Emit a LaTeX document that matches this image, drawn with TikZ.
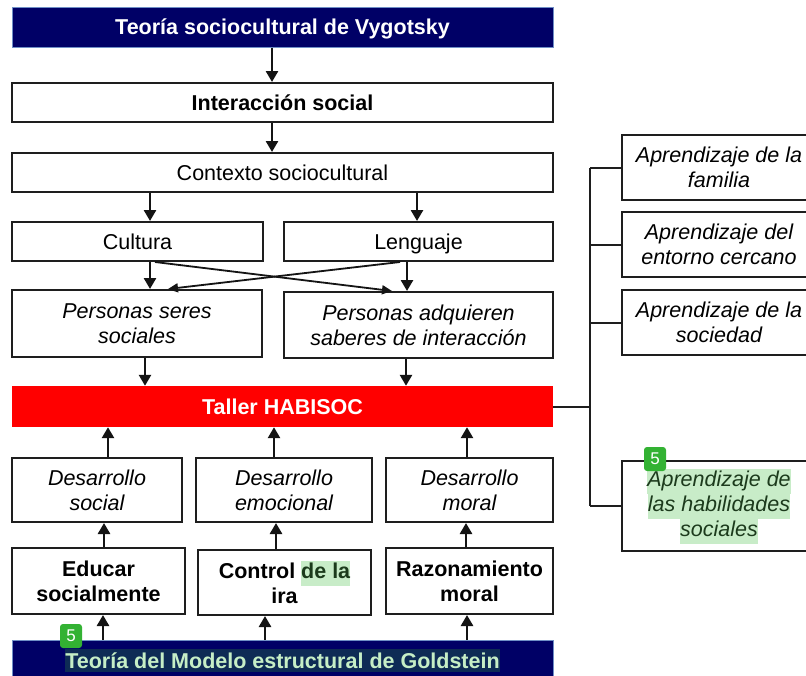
\documentclass[tikz,border=0pt]{standalone}
\usepackage{fontspec}
\setmainfont{Liberation Sans}
\usetikzlibrary{arrows.meta}
\definecolor{navy}{HTML}{000066}
\definecolor{navyedge}{HTML}{6F8FC6}
\definecolor{tallerred}{HTML}{FF0000}
\definecolor{hlgreen}{HTML}{C8ECC8}
\definecolor{hltext}{HTML}{1C3A1C}
\definecolor{badgegreen}{HTML}{33B233}
\definecolor{goldhl}{HTML}{0E2B55}
\definecolor{goldtext}{HTML}{C6EEC6}
\definecolor{boxline}{HTML}{1E1E1E}
\newcommand\hlbox[1]{{\setlength{\fboxsep}{0pt}\colorbox{hlgreen}{\strut\color{hltext}#1}}}
\begin{document}
\begin{tikzpicture}[x=1pt,y=-1pt,
  txt/.style={font=\fontsize{21.5}{25}\selectfont},
  box/.style={txt, draw=boxline, line width=2pt, fill=white, align=center, inner sep=0pt},
  bbox/.style={box, font=\fontsize{21.5}{25}\selectfont\bfseries},
  ibox/.style={box, font=\fontsize{21.5}{25}\selectfont\itshape},
  oneline/.style={text height=15.5pt, text depth=0pt},
  navybox/.style={draw=navyedge, line width=1pt, fill=navy, text=white, inner sep=0pt, font=\fontsize{21.5}{25}\selectfont\bfseries},
  arr/.style={draw=black!92, line width=2.6pt, -{Triangle[length=11pt,width=12pt]}},
  xarr/.style={draw=black!92, line width=1.8pt, -{Triangle[length=10pt,width=9pt]}},
  conn/.style={draw=boxline, line width=2pt},
  badge/.style={fill=badgegreen, rounded corners=3pt, minimum width=22pt, minimum height=24pt, inner sep=0pt, text=white, font=\fontsize{17}{17}\selectfont}
]
\useasboundingbox (0,0) rectangle (806,675);
\begin{scope}
\clip (0,0) rectangle (806,675);
\fill[white] (0,0) rectangle (806,675);

% left column
\node[navybox, oneline, minimum width=541pt, minimum height=40pt] (title) at (282.5,27) {Teoría sociocultural de Vygotsky};
\node[bbox, oneline, minimum width=541pt, minimum height=39pt] (inter) at (282.5,102.5) {Interacción social};
\node[box, oneline, minimum width=541pt, minimum height=39pt] (ctx) at (282.5,172.5) {Contexto sociocultural};
\node[box, oneline, minimum width=251pt, minimum height=39pt] (cult) at (137.5,241.5) {Cultura};
\node[box, oneline, minimum width=269pt, minimum height=39pt] (leng) at (418.5,241.5) {Lenguaje};
\node[ibox, minimum width=250pt, minimum height=67pt] (pss) at (137,323.5) {Personas seres\\sociales};
\node[ibox, minimum width=269pt, minimum height=66pt] (pas) at (418.5,325) {Personas adquieren\\saberes de interacción};
\node[fill=tallerred, text=white, oneline, inner sep=0pt, minimum width=541pt, minimum height=41pt, font=\fontsize{21.5}{25}\selectfont\bfseries] (taller) at (282.5,406.5) {Taller HABISOC};
\node[ibox, minimum width=170pt, minimum height=64pt] (ds) at (97,490) {Desarrollo\\social};
\node[ibox, minimum width=176pt, minimum height=64pt] (de) at (284,490) {Desarrollo\\emocional};
\node[ibox, minimum width=167pt, minimum height=64pt] (dm) at (469.5,490) {Desarrollo\\moral};
\node[bbox, minimum width=173pt, minimum height=66pt] (edu) at (98.5,581) {Educar\\socialmente};
\node[bbox, minimum width=173pt, minimum height=65pt] (ctrl) at (284.5,582.5) {Control \hlbox{de la}\\ira};
\node[bbox, minimum width=167pt, minimum height=66pt] (raz) at (469.5,581) {Razonamiento\\moral};
\node[navybox, minimum width=541pt, minimum height=55pt] (gold) at (282.5,667.5) {};
\node[fill=goldhl, text=goldtext, inner xsep=0.5pt, inner ysep=0pt, minimum height=23pt, font=\fontsize{21.5}{25}\selectfont\bfseries] (goldtxt) at (282.5,660.5) {Teoría del Modelo estructural de Goldstein};

% arrows
\draw[arr] ([xshift=-10.5pt]title.south) -- ([xshift=-10.5pt]inter.north);
\draw[arr] ([xshift=-10.5pt]inter.south) -- ([xshift=-10.5pt]ctx.north);
\draw[arr] ([xshift=-132.5pt]ctx.south) -- ([xshift=12.5pt]cult.north);
\draw[arr] ([xshift=134.5pt]ctx.south) -- ([xshift=-1.5pt]leng.north);
\draw[arr] ([xshift=12.5pt]cult.south) -- ([xshift=13pt]pss.north);
\draw[arr] ([xshift=-11.5pt]leng.south) -- ([xshift=-11.5pt]pas.north);
\draw[xarr] ([xshift=17.5pt]cult.south) -- ([xshift=-26.5pt]pas.north);
\draw[xarr] ([xshift=-18.5pt]leng.south) -- ([xshift=31pt]pss.north);
\draw[arr] ([xshift=8pt]pss.south) -- ([xshift=-137.5pt]taller.north);
\draw[arr] ([xshift=-12.5pt]pas.south) -- ([xshift=123.5pt]taller.north);
\draw[arr] ([xshift=11pt]ds.north) -- ([xshift=-174.5pt]taller.south);
\draw[arr] ([xshift=-10pt]de.north) -- ([xshift=-8.5pt]taller.south);
\draw[arr] ([xshift=-2.5pt]dm.north) -- ([xshift=184.5pt]taller.south);
\draw[arr] ([xshift=5.5pt]edu.north) -- ([xshift=7pt]ds.south);
\draw[arr] ([xshift=-8.5pt]ctrl.north) -- ([xshift=-8pt]de.south);
\draw[arr] ([xshift=-3.5pt]raz.north) -- ([xshift=-3.5pt]dm.south);
\draw[arr] ([xshift=-179.5pt]gold.north) -- ([xshift=4.5pt]edu.south);
\draw[arr] ([xshift=-17.5pt]gold.north) -- ([xshift=-19.5pt]ctrl.south);
\draw[arr] ([xshift=184.5pt]gold.north) -- ([xshift=-2.5pt]raz.south);

% right column
\node[ibox, minimum width=194pt, minimum height=65pt] (fam) at (719,167.5) {Aprendizaje de la\\familia};
\node[ibox, minimum width=194pt, minimum height=65pt] (ent) at (719,244.5) {Aprendizaje del\\entorno cercano};
\node[ibox, minimum width=194pt, minimum height=65pt] (soc) at (719,322.5) {Aprendizaje de la\\sociedad};
\node[ibox, minimum width=194pt, minimum height=90pt] (hab) at (719,506) {\hlbox{Aprendizaje de}\\\hlbox{las habilidades}\\\hlbox{sociales}};
\coordinate (bus) at (590,406.5);
\draw[conn] (taller.east) -- (bus);
\draw[conn] (fam.west -| bus) -- (hab.west -| bus);
\foreach \n in {fam,ent,soc,hab} \draw[conn] (\n.west -| bus) -- (\n.west);

% badges
\node[badge] (b1) at (655,459) {5};
\node[badge] (b2) at (71,636) {5};
\end{scope}
\end{tikzpicture}
\end{document}
